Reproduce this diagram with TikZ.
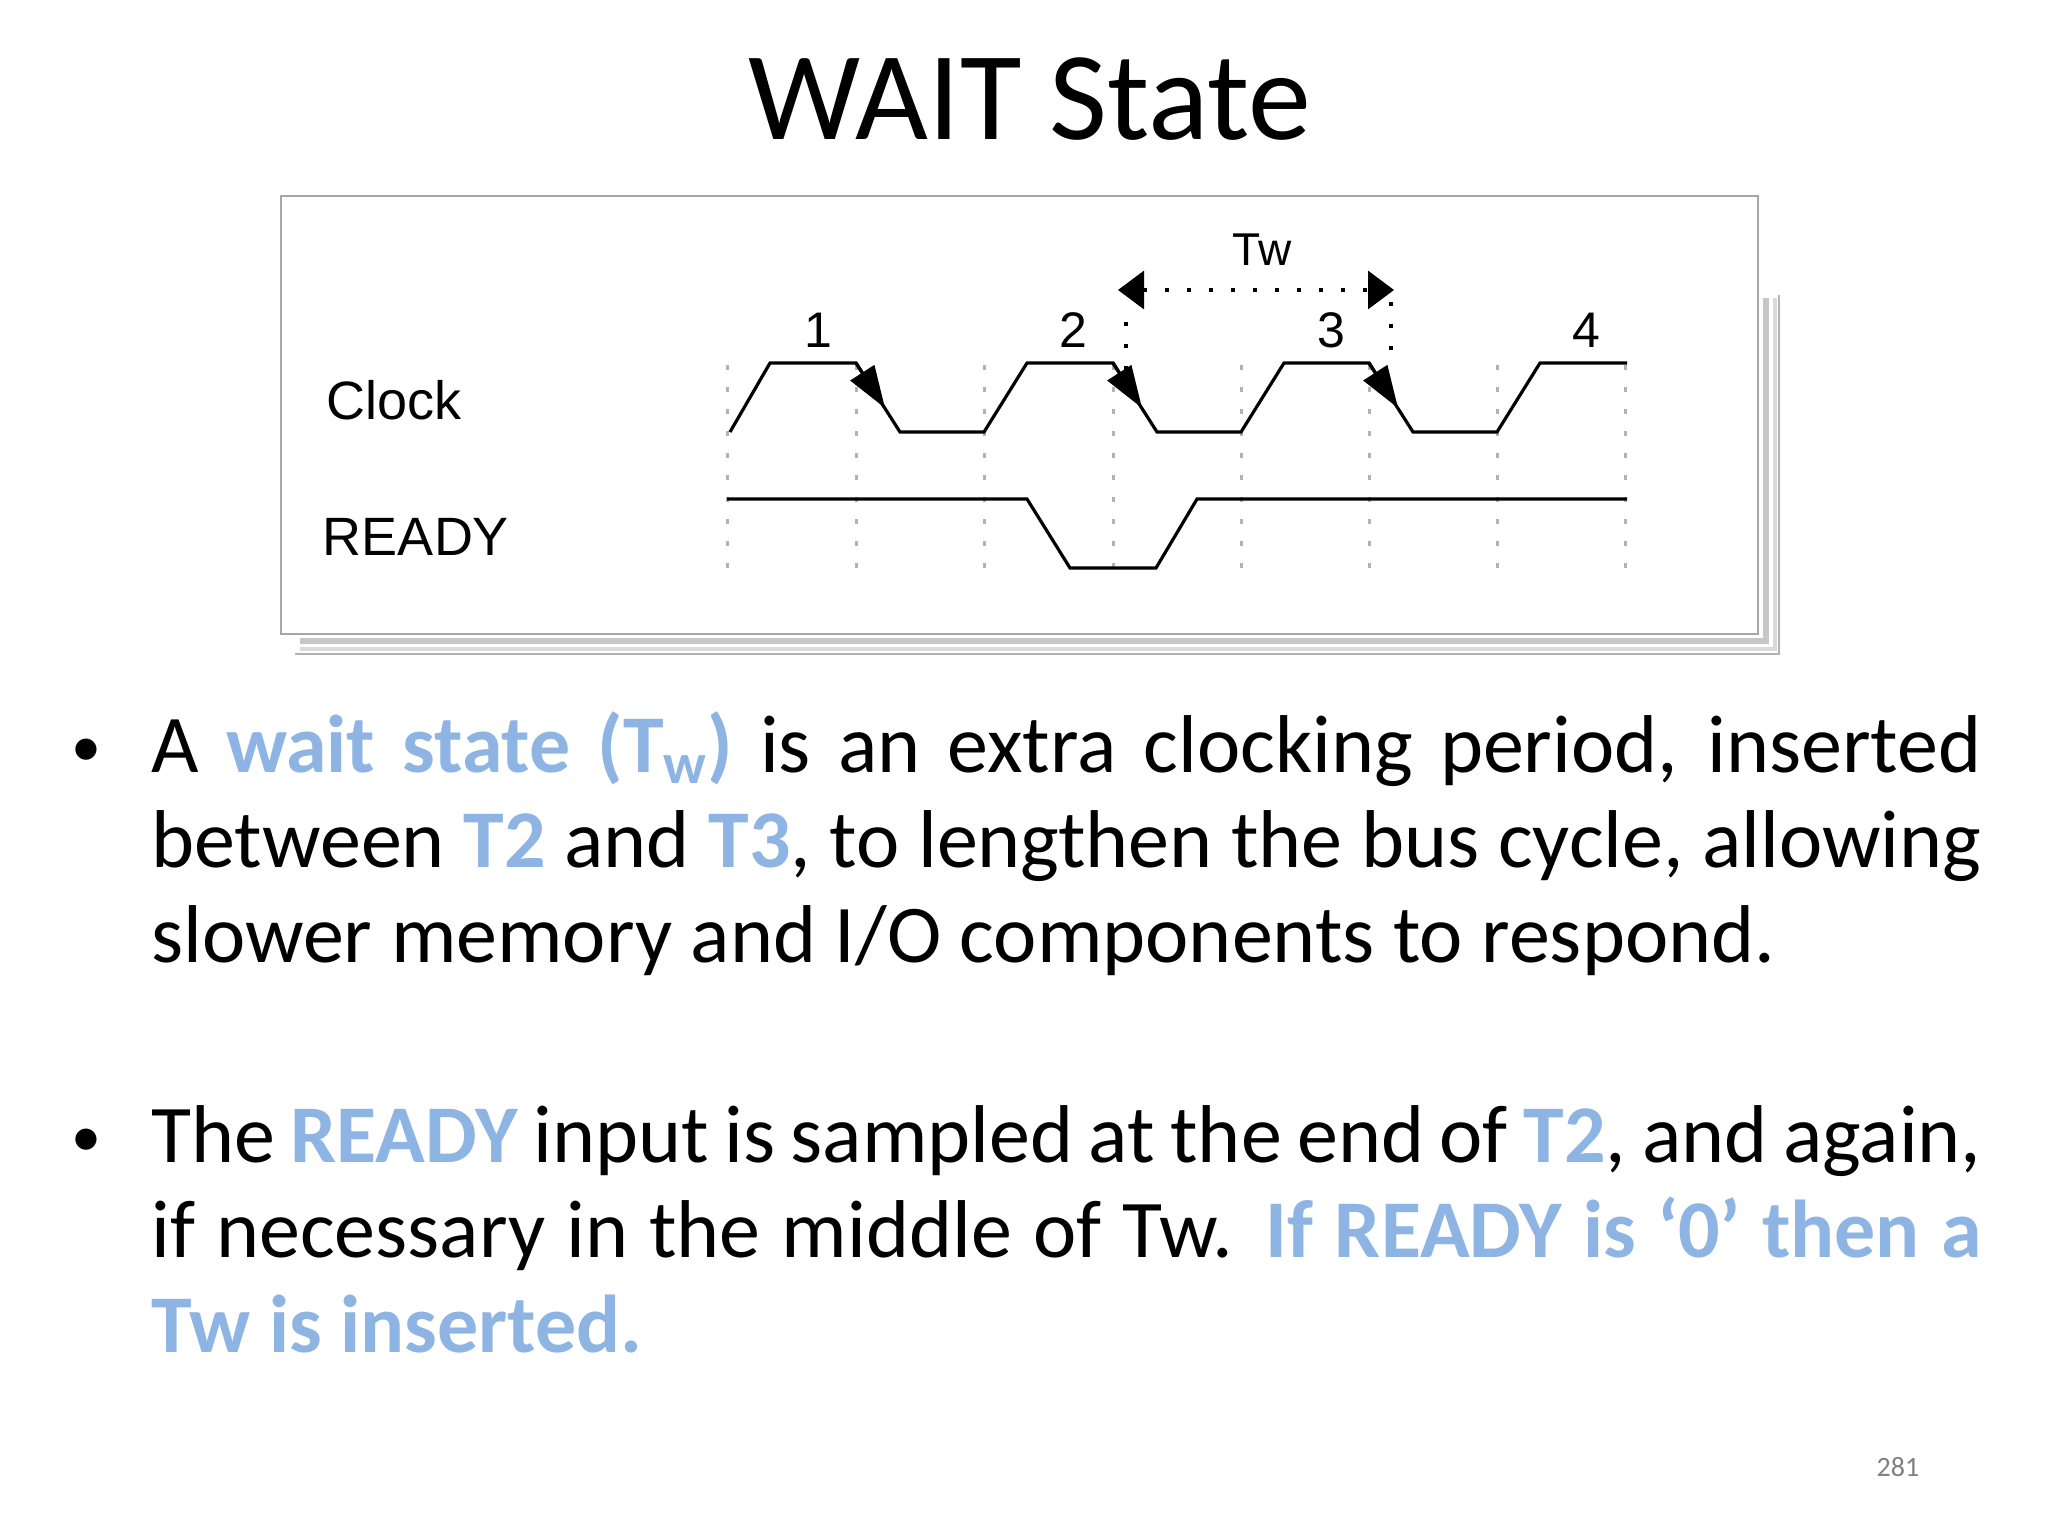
\documentclass[tikz,border=0pt]{standalone}
\usepackage{fontspec}
\setmainfont{Carlito}
\newfontfamily\arial{Liberation Sans}
\usetikzlibrary{arrows.meta}
\definecolor{hl}{HTML}{8DB4E2}
\newcommand{\hlt}[1]{\textcolor{hl}{\textbf{#1}}}
\newcommand{\nohyph}{\hyphenpenalty=10000\relax\exhyphenpenalty=10000\relax}
\tikzset{
  wave/.style={line width=1.6pt,black},
  grid/.style={line width=1.5pt,gray!60,dash pattern=on 2.5pt off 8.5pt},
  lbl/.style={font=\arial\fontsize{27pt}{30pt}\selectfont,inner sep=0},
  num/.style={font=\arial\fontsize{25pt}{28pt}\selectfont,inner sep=0},
  bul/.style={anchor=north west,inner sep=0,text width=915pt,align=justify,font=\fontsize{41pt}{47.5pt}\selectfont},
  edgearr/.style={line width=1.6pt,-{Triangle[length=21pt,width=14pt]}},
}
\begin{document}
\begin{tikzpicture}[x=0.5pt,y=-0.5pt]
\useasboundingbox (0,0) rectangle (2048,1536);
\fill[white] (0,0) rectangle (2048,1536);
% title
\node[anchor=base,inner sep=0,font=\fontsize{63pt}{70pt}\selectfont] (title) at (1030,140) {WAIT State};
% box with shadow
\draw[gray!45,line width=3pt] (300,641) -- (1766,641) -- (1766,298);
\draw[gray!30,line width=2pt] (300,649) -- (1775,649) -- (1775,298);
\draw[gray!60,line width=1.2pt] (295,654) -- (1779,654) -- (1779,295);
\draw[gray!70,line width=1pt,fill=white] (281,196) rectangle (1758,634);
% grid
\foreach \x in {727,856,984,1113,1241,1369,1497,1625}
  \draw[grid] (\x,365) -- (\x,568);
% labels
\node[lbl] (clk) at (394,400) {Clock};
\node[lbl] (rdy) at (416,537) {READY};
\node[num] (n1) at (818,330) {1};
\node[num] (n2) at (1073,330) {2};
\node[num] (n3) at (1331,330) {3};
\node[num] (n4) at (1586,330) {4};
\node[num,font=\arial\fontsize{23pt}{26pt}\selectfont] (tw) at (1262,250) {Tw};
% clock
\draw[wave,line join=miter] (730,432) -- (770,363) -- (856,363) -- (900,432) -- (984,432) -- (1027,363) -- (1113,363) -- (1157,432) -- (1241,432) -- (1284,363) -- (1369,363) -- (1413,432) -- (1497,432) -- (1540,363) -- (1627,363);
% ready
\draw[wave,line join=miter] (727,499) -- (1027,499) -- (1070,568) -- (1156,568) -- (1197,499) -- (1627,499);
% falling edge arrows
\coordinate (a1) at (856,363); \coordinate (b1) at (885,408);
\coordinate (a2) at (1113,363); \coordinate (b2) at (1142,408);
\coordinate (a3) at (1369,363); \coordinate (b3) at (1398,408);
\draw[edgearr] (a1) -- (b1);
\draw[edgearr] (a2) -- (b2);
\draw[edgearr] (a3) -- (b3);
% Tw arrow
\coordinate (twl) at (1118,290); \coordinate (twr) at (1394,290);
\draw[line width=1.6pt,dash pattern=on 2pt off 9pt,{Triangle[length=13pt,width=19pt]}-{Triangle[length=13pt,width=19pt]}] (twl) -- (twr);
\coordinate (vl1) at (1126,322); \coordinate (vl2) at (1126,380);
\coordinate (vr1) at (1391,302); \coordinate (vr2) at (1391,350);
\draw[line width=1.6pt,dash pattern=on 2pt off 9pt] (vl1) -- (vl2);
\draw[line width=1.6pt,dash pattern=on 2pt off 9pt] (vr1) -- (vr2);
% bullets
\node[inner sep=0,anchor=base,font=\fontsize{30pt}{34pt}\selectfont] (b1d) at (86,766) {•};
\node[bul] (p1) at (151,705.5) {\nohyph\strut A \hlt{wait state (T\textsubscript{w})} is an extra clocking period, inserted between \hlt{T2} and \hlt{T3}, to lengthen the bus cycle, allowing slower memory and I/O components to respond.};
\node[inner sep=0,anchor=base,font=\fontsize{30pt}{34pt}\selectfont] (b2d) at (86,1156) {•};
\node[bul] (p2) at (151,1095.5) {\nohyph\strut The \hlt{READY} input is sampled at the end of \hlt{T2}, and again, if necessary in the middle of Tw. \hlt{If READY is ‘0’ then a Tw is inserted.}};
% page number
\node[inner sep=0,anchor=base,text=gray,font=\fontsize{14pt}{16pt}\selectfont] (pg) at (1898,1476) {281};
\end{tikzpicture}
\end{document}
